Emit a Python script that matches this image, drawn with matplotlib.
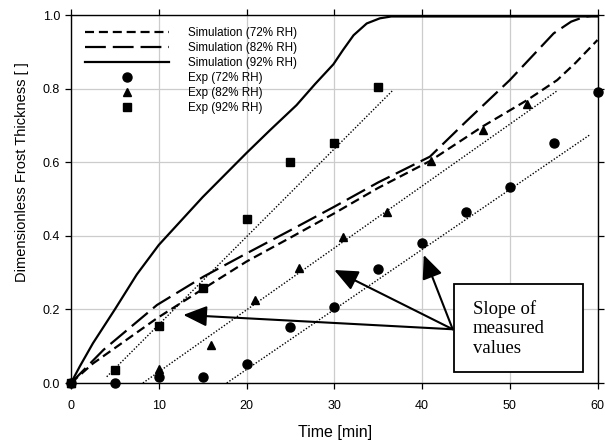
import matplotlib
matplotlib.use("Agg")
import matplotlib.pyplot as plt
from matplotlib.patches import Rectangle

plt.rcParams['font.family'] = ['Liberation Sans', 'DejaVu Sans']
plt.rcParams['lines.scale_dashes'] = False

# Simulation curves
sim72_x = [0, 2.5, 5, 9.8, 15, 20, 25, 30, 35, 40.9, 46.9, 52, 55.4, 57.5, 60]
sim72_y = [0, 0.053, 0.095, 0.176, 0.255, 0.33, 0.395, 0.461, 0.53, 0.603, 0.697, 0.769, 0.823, 0.87, 0.932]
sim82_x = [0, 3.7, 9.8, 15.1, 20, 25, 30, 35, 40.9, 45, 50, 55, 57, 58.5, 60]
sim82_y = [0, 0.09, 0.212, 0.289, 0.352, 0.415, 0.479, 0.545, 0.615, 0.71, 0.823, 0.95, 0.982, 0.995, 1.0]
sim92_x = [0, 1, 2.5, 5, 7.5, 10, 12.5, 15, 17.5, 20, 22.7, 25.7, 27.8, 29.9, 31, 32.2, 33.7, 35.2, 36.5, 40, 50, 60]
sim92_y = [0, 0.045, 0.108, 0.2, 0.295, 0.375, 0.44, 0.505, 0.565, 0.625, 0.6875, 0.755, 0.812, 0.866, 0.905, 0.945, 0.977, 0.991, 0.996, 0.996, 0.996, 0.996]

# Experimental data
exp72_x = [0, 5, 10, 15, 20, 25, 30, 35, 40, 45, 50, 55, 60]
exp72_y = [0, 0.0, 0.017, 0.017, 0.051, 0.153, 0.206, 0.309, 0.38, 0.464, 0.532, 0.651, 0.79]
exp82_x = [0, 10, 16, 21, 26, 31, 36, 41, 47, 52]
exp82_y = [0, 0.037, 0.103, 0.225, 0.312, 0.396, 0.466, 0.603, 0.6875, 0.757]
exp92_x = [0, 5, 10, 15, 20, 25, 30, 35]
exp92_y = [0, 0.035, 0.155, 0.257, 0.446, 0.60, 0.651, 0.805]

# Slope lines (start / end)
slope72_x = [17.75, 59.1]
slope72_y = [0.0, 0.674]
slope82_x = [7.6, 55.4]
slope82_y = [-0.01, 0.794]
slope92_x = [4.07, 36.7]
slope92_y = [0.017, 0.796]

# Annotation arrows
arrow_origin = (43.5, 0.146)
arrow_targets = [(12.8, 0.185), (30.0, 0.307), (40.2, 0.348)]

fig = plt.figure(figsize=(6.05, 4.44), dpi=100)
ax = fig.add_axes([71/605, 1-383/444, 526.5/605, 368/444])

ax.plot(sim72_x, sim72_y, color='black', lw=1.6, dashes=(6.5, 3.5), label='Simulation (72% RH)')
ax.plot(sim82_x, sim82_y, color='black', lw=1.6, dashes=(15, 5), label='Simulation (82% RH)')
ax.plot(sim92_x, sim92_y, color='black', lw=1.6, label='Simulation (92% RH)')

for sx, sy in [(slope72_x, slope72_y), (slope82_x, slope82_y), (slope92_x, slope92_y)]:
    ax.plot(sx, sy, color='black', lw=1.0, linestyle=(0, (1, 1.3)))

ax.plot(exp72_x, exp72_y, 'o', color='black', ms=6.5, label='Exp (72% RH)', zorder=5, clip_on=False)
ax.plot(exp82_x, exp82_y, '^', color='black', ms=6, label='Exp (82% RH)', zorder=5, clip_on=False)
ax.plot(exp92_x, exp92_y, 's', color='black', ms=5.5, label='Exp (92% RH)', zorder=5, clip_on=False)

for tx, ty in arrow_targets:
    ax.annotate('', xy=(tx, ty), xytext=arrow_origin,
                arrowprops=dict(arrowstyle='-|>,head_length=0.8,head_width=0.35', mutation_scale=18,
                                lw=1.5, color='black', shrinkA=0, shrinkB=0), zorder=6)

ax.add_patch(Rectangle((43.6, 0.030), 14.8, 0.239, facecolor='white', edgecolor='black', lw=1.3, zorder=7))
ax.text(45.8, 0.149, 'Slope of\nmeasured\nvalues', family=['Liberation Serif', 'DejaVu Serif'],
        fontsize=13.5, ha='left', va='center', zorder=8, linespacing=1.2)

ax.set_xlim(0, 60)
ax.set_ylim(0, 1.0)
ax.set_xticks([0, 10, 20, 30, 40, 50, 60])
ax.set_yticks([0.0, 0.2, 0.4, 0.6, 0.8, 1.0])
ax.set_yticklabels(['0.0', '0.2', '0.4', '0.6', '0.8', '1.0'])
ax.grid(True, color='#cccccc', lw=0.9)
ax.set_axisbelow(True)
ax.tick_params(direction='out', length=4.3, width=0.9, top=True, right=True, labelsize=9)
ax.tick_params(axis='x', pad=8)
ax.tick_params(axis='y', pad=3.5)
for s in ax.spines.values():
    s.set_linewidth(1.0)

ax.set_xlabel('Time [min]', fontsize=11.5)
ax.set_ylabel('Dimensionless Frost Thickness [ ]', fontsize=10.5)
ax.xaxis.set_label_coords(0.501, -0.115)
ax.yaxis.set_label_coords(-0.08, 0.573)

leg = ax.legend(loc='upper left', bbox_to_anchor=(14/526.5, 0.967), frameon=False, fontsize=8.4,
                handlelength=7.2, handletextpad=1.6, labelspacing=0.25, borderpad=0, borderaxespad=0)

fig.savefig('out.png', dpi=100)
